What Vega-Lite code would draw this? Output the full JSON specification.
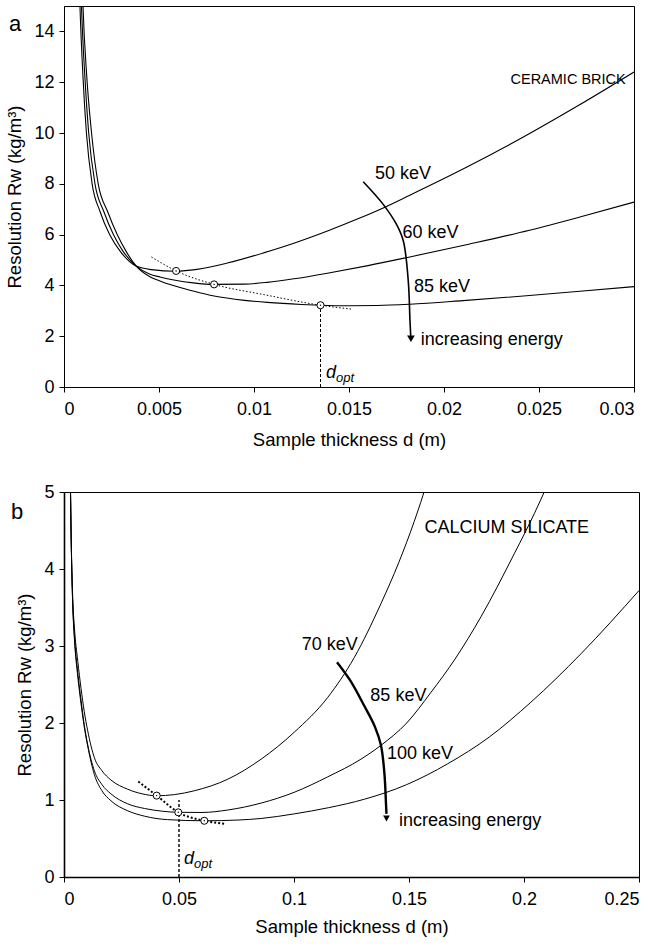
{
  "$schema": "https://vega.github.io/schema/vega-lite/v6.json",
  "background": "white",
  "padding": 5,
  "spacing": 33,
  "config": {
    "font": "Liberation Sans",
    "view": {"stroke": "black", "strokeWidth": 1},
    "axis": {"grid": false, "domainColor": "black", "domainWidth": 1, "tickColor": "black", "labelColor": "black", "titleColor": "black", "labelFontSize": 18, "titleFontSize": 18.5, "titleFontWeight": "normal", "tickSize": 5, "labelFont": "Liberation Sans", "titleFont": "Liberation Sans"},
    "axisX": {"labelPadding": 8, "titlePadding": 9},
    "axisY": {"labelPadding": 5, "titlePadding": 9},
    "title": {"font": "Liberation Sans", "fontWeight": "normal", "fontSize": 22, "color": "black"}
  },
  "datasets": {
    "a_curves": [
      {"s": "50", "d": 0.00078, "R": 16.5}, {"s": "50", "d": 0.00084, "R": 15}, {"s": "50", "d": 0.001, "R": 12.2}, {"s": "50", "d": 0.00118, "R": 10}, {"s": "50", "d": 0.00148, "R": 8}, {"s": "50", "d": 0.0019, "R": 6.9}, {"s": "50", "d": 0.0024, "R": 6.0}, {"s": "50", "d": 0.003, "R": 5.3}, {"s": "50", "d": 0.0038, "R": 4.76}, {"s": "50", "d": 0.0046, "R": 4.62}, {"s": "50", "d": 0.0059, "R": 4.56}, {"s": "50", "d": 0.007, "R": 4.63}, {"s": "50", "d": 0.0086, "R": 4.88}, {"s": "50", "d": 0.0105, "R": 5.28}, {"s": "50", "d": 0.0121, "R": 5.66}, {"s": "50", "d": 0.0139, "R": 6.15}, {"s": "50", "d": 0.0155, "R": 6.63}, {"s": "50", "d": 0.0168, "R": 7.05}, {"s": "50", "d": 0.0182, "R": 7.55}, {"s": "50", "d": 0.021, "R": 8.58}, {"s": "50", "d": 0.0242, "R": 9.85}, {"s": "50", "d": 0.027, "R": 11.05}, {"s": "50", "d": 0.03, "R": 12.4},
      {"s": "60", "d": 0.00086, "R": 16.5}, {"s": "60", "d": 0.00092, "R": 15}, {"s": "60", "d": 0.0011, "R": 12.2}, {"s": "60", "d": 0.0013, "R": 10}, {"s": "60", "d": 0.00163, "R": 8}, {"s": "60", "d": 0.0021, "R": 6.9}, {"s": "60", "d": 0.0026, "R": 6.0}, {"s": "60", "d": 0.0031, "R": 5.35}, {"s": "60", "d": 0.0038, "R": 4.76}, {"s": "60", "d": 0.0045, "R": 4.45}, {"s": "60", "d": 0.00505, "R": 4.33}, {"s": "60", "d": 0.0068, "R": 4.1}, {"s": "60", "d": 0.0079, "R": 4.04}, {"s": "60", "d": 0.0095, "R": 4.05}, {"s": "60", "d": 0.0107, "R": 4.12}, {"s": "60", "d": 0.0121, "R": 4.26}, {"s": "60", "d": 0.014, "R": 4.5}, {"s": "60", "d": 0.016, "R": 4.78}, {"s": "60", "d": 0.0182, "R": 5.12}, {"s": "60", "d": 0.0213, "R": 5.62}, {"s": "60", "d": 0.0245, "R": 6.17}, {"s": "60", "d": 0.0272, "R": 6.7}, {"s": "60", "d": 0.03, "R": 7.28},
      {"s": "85", "d": 0.00094, "R": 16.5}, {"s": "85", "d": 0.001, "R": 15}, {"s": "85", "d": 0.0012, "R": 12.2}, {"s": "85", "d": 0.00145, "R": 10}, {"s": "85", "d": 0.0018, "R": 8}, {"s": "85", "d": 0.0023, "R": 6.9}, {"s": "85", "d": 0.0028, "R": 6.0}, {"s": "85", "d": 0.0033, "R": 5.3}, {"s": "85", "d": 0.0038, "R": 4.76}, {"s": "85", "d": 0.0045, "R": 4.35}, {"s": "85", "d": 0.00505, "R": 4.17}, {"s": "85", "d": 0.0068, "R": 3.78}, {"s": "85", "d": 0.0079, "R": 3.58}, {"s": "85", "d": 0.0095, "R": 3.41}, {"s": "85", "d": 0.0107, "R": 3.33}, {"s": "85", "d": 0.0125, "R": 3.25}, {"s": "85", "d": 0.0135, "R": 3.22}, {"s": "85", "d": 0.015, "R": 3.2}, {"s": "85", "d": 0.0165, "R": 3.21}, {"s": "85", "d": 0.0182, "R": 3.26}, {"s": "85", "d": 0.021, "R": 3.4}, {"s": "85", "d": 0.0245, "R": 3.6}, {"s": "85", "d": 0.027, "R": 3.76}, {"s": "85", "d": 0.03, "R": 3.95}
    ],
    "a_dotted": [
      {"d": 0.0046, "R": 5.12}, {"d": 0.0059, "R": 4.57}, {"d": 0.0079, "R": 4.04}, {"d": 0.0105, "R": 3.64}, {"d": 0.0135, "R": 3.22}, {"d": 0.0152, "R": 3.06}
    ],
    "a_dashed": [{"d": 0.0135, "R": 0}, {"d": 0.0135, "R": 3.22}],
    "a_opt": [{"d": 0.0059, "R": 4.57}, {"d": 0.0079, "R": 4.04}, {"d": 0.0135, "R": 3.22}],
    "a_arrow": [
      {"d": 0.01575, "R": 8.08}, {"d": 0.0168, "R": 7.19}, {"d": 0.0175, "R": 6.4}, {"d": 0.01786, "R": 5.75}, {"d": 0.01812, "R": 4.17}, {"d": 0.01821, "R": 2.6}, {"d": 0.01825, "R": 2.0}
    ],
    "a_head": [{"d": 0.01826, "R": 1.9}],
    "a_labels": [
      {"d": 0.01637, "R": 8.37, "label": "50 keV"},
      {"d": 0.01782, "R": 6.07, "label": "60 keV"},
      {"d": 0.01842, "R": 3.95, "label": "85 keV"},
      {"d": 0.01877, "R": 1.85, "label": "increasing energy"}
    ],
    "a_title": [{"d": 0.0235, "R": 12.1, "label": "CERAMIC BRICK"}],
    "a_dopt": [{"d": 0.01379, "R": 0.55}],
    "b_curves": [
      {"s": "70", "d": 0.0027, "R": 5.3}, {"s": "70", "d": 0.0032, "R": 4.3}, {"s": "70", "d": 0.0038, "R": 3.62}, {"s": "70", "d": 0.0045, "R": 3.25}, {"s": "70", "d": 0.006, "R": 2.8}, {"s": "70", "d": 0.0074, "R": 2.45}, {"s": "70", "d": 0.0088, "R": 2.15}, {"s": "70", "d": 0.0103, "R": 1.9}, {"s": "70", "d": 0.0132, "R": 1.55}, {"s": "70", "d": 0.0165, "R": 1.38}, {"s": "70", "d": 0.0204, "R": 1.26}, {"s": "70", "d": 0.0277, "R": 1.14}, {"s": "70", "d": 0.034, "R": 1.08}, {"s": "70", "d": 0.0403, "R": 1.055}, {"s": "70", "d": 0.048, "R": 1.07}, {"s": "70", "d": 0.0567, "R": 1.12}, {"s": "70", "d": 0.0712, "R": 1.27}, {"s": "70", "d": 0.0857, "R": 1.53}, {"s": "70", "d": 0.1001, "R": 1.88}, {"s": "70", "d": 0.1146, "R": 2.33}, {"s": "70", "d": 0.1262, "R": 2.85}, {"s": "70", "d": 0.1378, "R": 3.55}, {"s": "70", "d": 0.1455, "R": 4.08}, {"s": "70", "d": 0.1523, "R": 4.62}, {"s": "70", "d": 0.156, "R": 4.95}, {"s": "70", "d": 0.1585, "R": 5.2},
      {"s": "85", "d": 0.0027, "R": 5.3}, {"s": "85", "d": 0.0032, "R": 4.25}, {"s": "85", "d": 0.0038, "R": 3.55}, {"s": "85", "d": 0.0045, "R": 3.15}, {"s": "85", "d": 0.006, "R": 2.65}, {"s": "85", "d": 0.0074, "R": 2.3}, {"s": "85", "d": 0.0088, "R": 1.98}, {"s": "85", "d": 0.0103, "R": 1.72}, {"s": "85", "d": 0.0132, "R": 1.38}, {"s": "85", "d": 0.0165, "R": 1.2}, {"s": "85", "d": 0.0204, "R": 1.08}, {"s": "85", "d": 0.0277, "R": 0.95}, {"s": "85", "d": 0.035, "R": 0.89}, {"s": "85", "d": 0.0425, "R": 0.855}, {"s": "85", "d": 0.0497, "R": 0.84}, {"s": "85", "d": 0.06, "R": 0.838}, {"s": "85", "d": 0.0712, "R": 0.87}, {"s": "85", "d": 0.0857, "R": 0.96}, {"s": "85", "d": 0.1001, "R": 1.1}, {"s": "85", "d": 0.1146, "R": 1.3}, {"s": "85", "d": 0.1291, "R": 1.53}, {"s": "85", "d": 0.1378, "R": 1.71}, {"s": "85", "d": 0.149, "R": 2.0}, {"s": "85", "d": 0.1596, "R": 2.4}, {"s": "85", "d": 0.17, "R": 2.83}, {"s": "85", "d": 0.1813, "R": 3.38}, {"s": "85", "d": 0.1958, "R": 4.2}, {"s": "85", "d": 0.2045, "R": 4.72}, {"s": "85", "d": 0.21, "R": 5.08},
      {"s": "100", "d": 0.0027, "R": 5.3}, {"s": "100", "d": 0.0032, "R": 4.25}, {"s": "100", "d": 0.0038, "R": 3.52}, {"s": "100", "d": 0.0045, "R": 3.1}, {"s": "100", "d": 0.006, "R": 2.6}, {"s": "100", "d": 0.0074, "R": 2.25}, {"s": "100", "d": 0.0088, "R": 1.95}, {"s": "100", "d": 0.0103, "R": 1.7}, {"s": "100", "d": 0.0132, "R": 1.33}, {"s": "100", "d": 0.0165, "R": 1.12}, {"s": "100", "d": 0.0204, "R": 0.99}, {"s": "100", "d": 0.0277, "R": 0.86}, {"s": "100", "d": 0.035, "R": 0.79}, {"s": "100", "d": 0.045, "R": 0.745}, {"s": "100", "d": 0.061, "R": 0.73}, {"s": "100", "d": 0.0757, "R": 0.74}, {"s": "100", "d": 0.0857, "R": 0.76}, {"s": "100", "d": 0.1001, "R": 0.82}, {"s": "100", "d": 0.115, "R": 0.9}, {"s": "100", "d": 0.1306, "R": 1.01}, {"s": "100", "d": 0.149, "R": 1.2}, {"s": "100", "d": 0.1668, "R": 1.47}, {"s": "100", "d": 0.185, "R": 1.82}, {"s": "100", "d": 0.203, "R": 2.27}, {"s": "100", "d": 0.2248, "R": 2.9}, {"s": "100", "d": 0.25, "R": 3.72}
    ],
    "b_dotted": [
      {"d": 0.0323, "R": 1.24}, {"d": 0.0403, "R": 1.057}, {"d": 0.0497, "R": 0.84}, {"d": 0.061, "R": 0.73}, {"d": 0.0704, "R": 0.69}
    ],
    "b_dashed": [{"d": 0.05, "R": 0}, {"d": 0.05, "R": 1.0}],
    "b_opt": [{"d": 0.0403, "R": 1.057}, {"d": 0.0497, "R": 0.84}, {"d": 0.061, "R": 0.73}],
    "b_arrow": [
      {"d": 0.1187, "R": 2.79}, {"d": 0.1245, "R": 2.55}, {"d": 0.1306, "R": 2.22}, {"d": 0.1352, "R": 1.95}, {"d": 0.1378, "R": 1.71}, {"d": 0.1393, "R": 1.35}, {"d": 0.14, "R": 0.95}, {"d": 0.1402, "R": 0.82}
    ],
    "b_head": [{"d": 0.1402, "R": 0.76}],
    "b_labels": [
      {"d": 0.1034, "R": 3.01, "label": "70 keV"},
      {"d": 0.1332, "R": 2.35, "label": "85 keV"},
      {"d": 0.1404, "R": 1.6, "label": "100 keV"},
      {"d": 0.1457, "R": 0.73, "label": "increasing energy"},
      {"d": 0.1567, "R": 4.53, "label": "CALCIUM SILICATE"}
    ],
    "b_dopt": [{"d": 0.0522, "R": 0.23}]
  },
  "vconcat": [
    {
      "width": 570,
      "height": 381,
      "title": {"text": "a", "anchor": "start", "frame": "bounds", "offset": -30, "dx": 3},
      "encoding": {
        "x": {"field": "d", "type": "quantitative", "scale": {"domain": [0, 0.03], "nice": false, "zero": false}, "axis": {"title": "Sample thickness d (m)", "titlePadding": 12, "values": [0, 0.005, 0.01, 0.015, 0.02, 0.025, 0.03], "format": "~g"}},
        "y": {"field": "R", "type": "quantitative", "scale": {"domain": [0, 15], "nice": false}, "axis": {"title": "Resolution Rw (kg/m³)", "values": [0, 2, 4, 6, 8, 10, 12, 14]}}
      },
      "layer": [
        {"data": {"name": "a_curves"}, "mark": {"type": "line", "color": "black", "strokeWidth": 1.1, "interpolate": "monotone", "clip": true}, "encoding": {"detail": {"field": "s"}}},
        {"data": {"name": "a_dotted"}, "mark": {"type": "line", "color": "black", "strokeWidth": 1, "strokeDash": [1.5, 2], "interpolate": "monotone"}, "encoding": {}},
        {"data": {"name": "a_dashed"}, "mark": {"type": "line", "color": "black", "strokeWidth": 1, "strokeDash": [3, 2]}, "encoding": {"order": {"field": "R"}}},
        {"data": {"name": "a_arrow"}, "mark": {"type": "line", "color": "black", "strokeWidth": 1.6, "interpolate": "catmull-rom"}, "encoding": {"order": {"field": "R", "sort": "descending"}}},
        {"data": {"name": "a_head"}, "mark": {"type": "point", "shape": "triangle-down", "filled": true, "color": "black", "size": 60, "opacity": 1}},
        {"data": {"name": "a_opt"}, "mark": {"type": "point", "shape": "circle", "filled": true, "fill": "white", "stroke": "black", "strokeWidth": 1, "size": 50, "opacity": 1}},
        {"data": {"name": "a_opt"}, "mark": {"type": "point", "shape": "circle", "filled": true, "color": "black", "size": 2, "opacity": 1}},
        {"data": {"name": "a_labels"}, "mark": {"type": "text", "align": "left", "baseline": "middle", "fontSize": 18, "color": "black"}, "encoding": {"text": {"field": "label"}}},
        {"data": {"name": "a_title"}, "mark": {"type": "text", "align": "left", "baseline": "middle", "fontSize": 14.5, "color": "black"}, "encoding": {"text": {"field": "label"}}},
        {"data": {"name": "a_dopt"}, "mark": {"type": "text", "align": "left", "baseline": "middle", "fontSize": 18, "fontStyle": "italic", "color": "black", "text": "d"}},
        {"data": {"name": "a_dopt"}, "mark": {"type": "text", "align": "left", "baseline": "middle", "fontSize": 13, "fontStyle": "italic", "color": "black", "text": "opt", "dx": 10, "dy": 5}}
      ]
    },
    {
      "width": 575,
      "height": 385,
      "title": {"text": "b", "anchor": "start", "frame": "bounds", "offset": -41, "dx": -5},
      "encoding": {
        "x": {"field": "d", "type": "quantitative", "scale": {"domain": [0, 0.25], "nice": false, "zero": false}, "axis": {"title": "Sample thickness d (m)", "domainWidth": 1.6, "values": [0, 0.05, 0.1, 0.15, 0.2, 0.25], "format": "~g"}},
        "y": {"field": "R", "type": "quantitative", "scale": {"domain": [0, 5], "nice": false}, "axis": {"title": "Resolution Rw (kg/m³)", "domainWidth": 1.6, "values": [0, 1, 2, 3, 4, 5]}}
      },
      "layer": [
        {"data": {"name": "b_curves"}, "mark": {"type": "line", "color": "black", "strokeWidth": 1, "interpolate": "monotone", "clip": true}, "encoding": {"detail": {"field": "s"}}},
        {"data": {"name": "b_dotted"}, "mark": {"type": "line", "color": "black", "strokeWidth": 2, "strokeDash": [2, 2], "interpolate": "monotone"}, "encoding": {}},
        {"data": {"name": "b_dashed"}, "mark": {"type": "line", "color": "black", "strokeWidth": 1.4, "strokeDash": [3, 2]}, "encoding": {"order": {"field": "R"}}},
        {"data": {"name": "b_arrow"}, "mark": {"type": "line", "color": "black", "strokeWidth": 2.4, "interpolate": "catmull-rom"}, "encoding": {"order": {"field": "R", "sort": "descending"}}},
        {"data": {"name": "b_head"}, "mark": {"type": "point", "shape": "triangle-down", "filled": true, "color": "black", "size": 45, "opacity": 1}},
        {"data": {"name": "b_opt"}, "mark": {"type": "point", "shape": "circle", "filled": true, "fill": "white", "stroke": "black", "strokeWidth": 1, "size": 50, "opacity": 1}},
        {"data": {"name": "b_opt"}, "mark": {"type": "point", "shape": "circle", "filled": true, "color": "black", "size": 2, "opacity": 1}},
        {"data": {"name": "b_labels"}, "mark": {"type": "text", "align": "left", "baseline": "middle", "fontSize": 18, "color": "black"}, "encoding": {"text": {"field": "label"}}},
        {"data": {"name": "b_dopt"}, "mark": {"type": "text", "align": "left", "baseline": "middle", "fontSize": 18, "fontStyle": "italic", "color": "black", "text": "d"}},
        {"data": {"name": "b_dopt"}, "mark": {"type": "text", "align": "left", "baseline": "middle", "fontSize": 13, "fontStyle": "italic", "color": "black", "text": "opt", "dx": 10, "dy": 5}}
      ]
    }
  ]
}
